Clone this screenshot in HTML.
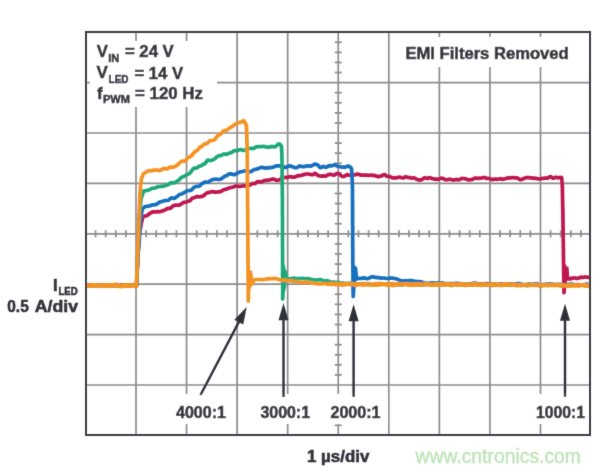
<!DOCTYPE html>
<html><head><meta charset="utf-8"><style>
html,body{margin:0;padding:0;background:#fff;width:600px;height:472px;overflow:hidden}
svg{display:block}
text{font-family:"Liberation Sans",sans-serif;font-weight:bold;fill:#33343b;stroke:#33343b;stroke-width:0.55px}
</style></head><body>
<svg width="600" height="472" viewBox="0 0 600 472">
<defs><filter id="bl" x="0" y="0" width="600" height="472" filterUnits="userSpaceOnUse"><feConvolveMatrix order="3" kernelMatrix="0.0113 0.0838 0.0113 0.0838 0.6193 0.0838 0.0113 0.0838 0.0113" edgeMode="duplicate"/></filter></defs>
<rect width="600" height="472" fill="#fff"/>
<g filter="url(#bl)">
<line x1="136.00" y1="32.0" x2="136.00" y2="435.0" stroke="#8d8d91" stroke-width="1.7"/>
<line x1="186.56" y1="32.0" x2="186.56" y2="435.0" stroke="#8d8d91" stroke-width="1.7"/>
<line x1="237.12" y1="32.0" x2="237.12" y2="435.0" stroke="#8d8d91" stroke-width="1.7"/>
<line x1="287.68" y1="32.0" x2="287.68" y2="435.0" stroke="#8d8d91" stroke-width="1.7"/>
<line x1="338.24" y1="32.0" x2="338.24" y2="435.0" stroke="#8d8d91" stroke-width="1.7"/>
<line x1="388.80" y1="32.0" x2="388.80" y2="435.0" stroke="#8d8d91" stroke-width="1.7"/>
<line x1="439.36" y1="32.0" x2="439.36" y2="435.0" stroke="#8d8d91" stroke-width="1.7"/>
<line x1="489.92" y1="32.0" x2="489.92" y2="435.0" stroke="#8d8d91" stroke-width="1.7"/>
<line x1="540.48" y1="32.0" x2="540.48" y2="435.0" stroke="#8d8d91" stroke-width="1.7"/>
<line x1="86.0" y1="82.60" x2="590.0" y2="82.60" stroke="#8d8d91" stroke-width="1.7"/>
<line x1="86.0" y1="133.00" x2="590.0" y2="133.00" stroke="#8d8d91" stroke-width="1.7"/>
<line x1="86.0" y1="183.40" x2="590.0" y2="183.40" stroke="#8d8d91" stroke-width="1.7"/>
<line x1="86.0" y1="233.80" x2="590.0" y2="233.80" stroke="#8d8d91" stroke-width="1.7"/>
<line x1="86.0" y1="284.20" x2="590.0" y2="284.20" stroke="#8d8d91" stroke-width="1.7"/>
<line x1="86.0" y1="334.60" x2="590.0" y2="334.60" stroke="#8d8d91" stroke-width="1.7"/>
<line x1="86.0" y1="385.00" x2="590.0" y2="385.00" stroke="#8d8d91" stroke-width="1.7"/>
<line x1="95.55" y1="230.30" x2="95.55" y2="237.30" stroke="#8d8d91" stroke-width="1.7"/>
<line x1="105.66" y1="230.30" x2="105.66" y2="237.30" stroke="#8d8d91" stroke-width="1.7"/>
<line x1="115.78" y1="230.30" x2="115.78" y2="237.30" stroke="#8d8d91" stroke-width="1.7"/>
<line x1="125.89" y1="230.30" x2="125.89" y2="237.30" stroke="#8d8d91" stroke-width="1.7"/>
<line x1="146.11" y1="230.30" x2="146.11" y2="237.30" stroke="#8d8d91" stroke-width="1.7"/>
<line x1="156.22" y1="230.30" x2="156.22" y2="237.30" stroke="#8d8d91" stroke-width="1.7"/>
<line x1="166.34" y1="230.30" x2="166.34" y2="237.30" stroke="#8d8d91" stroke-width="1.7"/>
<line x1="176.45" y1="230.30" x2="176.45" y2="237.30" stroke="#8d8d91" stroke-width="1.7"/>
<line x1="196.67" y1="230.30" x2="196.67" y2="237.30" stroke="#8d8d91" stroke-width="1.7"/>
<line x1="206.78" y1="230.30" x2="206.78" y2="237.30" stroke="#8d8d91" stroke-width="1.7"/>
<line x1="216.90" y1="230.30" x2="216.90" y2="237.30" stroke="#8d8d91" stroke-width="1.7"/>
<line x1="227.01" y1="230.30" x2="227.01" y2="237.30" stroke="#8d8d91" stroke-width="1.7"/>
<line x1="247.23" y1="230.30" x2="247.23" y2="237.30" stroke="#8d8d91" stroke-width="1.7"/>
<line x1="257.34" y1="230.30" x2="257.34" y2="237.30" stroke="#8d8d91" stroke-width="1.7"/>
<line x1="267.46" y1="230.30" x2="267.46" y2="237.30" stroke="#8d8d91" stroke-width="1.7"/>
<line x1="277.57" y1="230.30" x2="277.57" y2="237.30" stroke="#8d8d91" stroke-width="1.7"/>
<line x1="297.79" y1="230.30" x2="297.79" y2="237.30" stroke="#8d8d91" stroke-width="1.7"/>
<line x1="307.90" y1="230.30" x2="307.90" y2="237.30" stroke="#8d8d91" stroke-width="1.7"/>
<line x1="318.02" y1="230.30" x2="318.02" y2="237.30" stroke="#8d8d91" stroke-width="1.7"/>
<line x1="328.13" y1="230.30" x2="328.13" y2="237.30" stroke="#8d8d91" stroke-width="1.7"/>
<line x1="348.35" y1="230.30" x2="348.35" y2="237.30" stroke="#8d8d91" stroke-width="1.7"/>
<line x1="358.46" y1="230.30" x2="358.46" y2="237.30" stroke="#8d8d91" stroke-width="1.7"/>
<line x1="368.58" y1="230.30" x2="368.58" y2="237.30" stroke="#8d8d91" stroke-width="1.7"/>
<line x1="378.69" y1="230.30" x2="378.69" y2="237.30" stroke="#8d8d91" stroke-width="1.7"/>
<line x1="398.91" y1="230.30" x2="398.91" y2="237.30" stroke="#8d8d91" stroke-width="1.7"/>
<line x1="409.02" y1="230.30" x2="409.02" y2="237.30" stroke="#8d8d91" stroke-width="1.7"/>
<line x1="419.14" y1="230.30" x2="419.14" y2="237.30" stroke="#8d8d91" stroke-width="1.7"/>
<line x1="429.25" y1="230.30" x2="429.25" y2="237.30" stroke="#8d8d91" stroke-width="1.7"/>
<line x1="449.47" y1="230.30" x2="449.47" y2="237.30" stroke="#8d8d91" stroke-width="1.7"/>
<line x1="459.58" y1="230.30" x2="459.58" y2="237.30" stroke="#8d8d91" stroke-width="1.7"/>
<line x1="469.70" y1="230.30" x2="469.70" y2="237.30" stroke="#8d8d91" stroke-width="1.7"/>
<line x1="479.81" y1="230.30" x2="479.81" y2="237.30" stroke="#8d8d91" stroke-width="1.7"/>
<line x1="500.03" y1="230.30" x2="500.03" y2="237.30" stroke="#8d8d91" stroke-width="1.7"/>
<line x1="510.14" y1="230.30" x2="510.14" y2="237.30" stroke="#8d8d91" stroke-width="1.7"/>
<line x1="520.26" y1="230.30" x2="520.26" y2="237.30" stroke="#8d8d91" stroke-width="1.7"/>
<line x1="530.37" y1="230.30" x2="530.37" y2="237.30" stroke="#8d8d91" stroke-width="1.7"/>
<line x1="550.59" y1="230.30" x2="550.59" y2="237.30" stroke="#8d8d91" stroke-width="1.7"/>
<line x1="560.70" y1="230.30" x2="560.70" y2="237.30" stroke="#8d8d91" stroke-width="1.7"/>
<line x1="570.82" y1="230.30" x2="570.82" y2="237.30" stroke="#8d8d91" stroke-width="1.7"/>
<line x1="580.93" y1="230.30" x2="580.93" y2="237.30" stroke="#8d8d91" stroke-width="1.7"/>
<line x1="334.74" y1="42.28" x2="341.74" y2="42.28" stroke="#8d8d91" stroke-width="1.7"/>
<line x1="334.74" y1="52.36" x2="341.74" y2="52.36" stroke="#8d8d91" stroke-width="1.7"/>
<line x1="334.74" y1="62.44" x2="341.74" y2="62.44" stroke="#8d8d91" stroke-width="1.7"/>
<line x1="334.74" y1="72.52" x2="341.74" y2="72.52" stroke="#8d8d91" stroke-width="1.7"/>
<line x1="334.74" y1="92.68" x2="341.74" y2="92.68" stroke="#8d8d91" stroke-width="1.7"/>
<line x1="334.74" y1="102.76" x2="341.74" y2="102.76" stroke="#8d8d91" stroke-width="1.7"/>
<line x1="334.74" y1="112.84" x2="341.74" y2="112.84" stroke="#8d8d91" stroke-width="1.7"/>
<line x1="334.74" y1="122.92" x2="341.74" y2="122.92" stroke="#8d8d91" stroke-width="1.7"/>
<line x1="334.74" y1="143.08" x2="341.74" y2="143.08" stroke="#8d8d91" stroke-width="1.7"/>
<line x1="334.74" y1="153.16" x2="341.74" y2="153.16" stroke="#8d8d91" stroke-width="1.7"/>
<line x1="334.74" y1="163.24" x2="341.74" y2="163.24" stroke="#8d8d91" stroke-width="1.7"/>
<line x1="334.74" y1="173.32" x2="341.74" y2="173.32" stroke="#8d8d91" stroke-width="1.7"/>
<line x1="334.74" y1="193.48" x2="341.74" y2="193.48" stroke="#8d8d91" stroke-width="1.7"/>
<line x1="334.74" y1="203.56" x2="341.74" y2="203.56" stroke="#8d8d91" stroke-width="1.7"/>
<line x1="334.74" y1="213.64" x2="341.74" y2="213.64" stroke="#8d8d91" stroke-width="1.7"/>
<line x1="334.74" y1="223.72" x2="341.74" y2="223.72" stroke="#8d8d91" stroke-width="1.7"/>
<line x1="334.74" y1="243.88" x2="341.74" y2="243.88" stroke="#8d8d91" stroke-width="1.7"/>
<line x1="334.74" y1="253.96" x2="341.74" y2="253.96" stroke="#8d8d91" stroke-width="1.7"/>
<line x1="334.74" y1="264.04" x2="341.74" y2="264.04" stroke="#8d8d91" stroke-width="1.7"/>
<line x1="334.74" y1="274.12" x2="341.74" y2="274.12" stroke="#8d8d91" stroke-width="1.7"/>
<line x1="334.74" y1="294.28" x2="341.74" y2="294.28" stroke="#8d8d91" stroke-width="1.7"/>
<line x1="334.74" y1="304.36" x2="341.74" y2="304.36" stroke="#8d8d91" stroke-width="1.7"/>
<line x1="334.74" y1="314.44" x2="341.74" y2="314.44" stroke="#8d8d91" stroke-width="1.7"/>
<line x1="334.74" y1="324.52" x2="341.74" y2="324.52" stroke="#8d8d91" stroke-width="1.7"/>
<line x1="334.74" y1="344.68" x2="341.74" y2="344.68" stroke="#8d8d91" stroke-width="1.7"/>
<line x1="334.74" y1="354.76" x2="341.74" y2="354.76" stroke="#8d8d91" stroke-width="1.7"/>
<line x1="334.74" y1="364.84" x2="341.74" y2="364.84" stroke="#8d8d91" stroke-width="1.7"/>
<line x1="334.74" y1="374.92" x2="341.74" y2="374.92" stroke="#8d8d91" stroke-width="1.7"/>
<line x1="334.74" y1="395.08" x2="341.74" y2="395.08" stroke="#8d8d91" stroke-width="1.7"/>
<line x1="334.74" y1="405.16" x2="341.74" y2="405.16" stroke="#8d8d91" stroke-width="1.7"/>
<line x1="334.74" y1="415.24" x2="341.74" y2="415.24" stroke="#8d8d91" stroke-width="1.7"/>
<line x1="334.74" y1="425.32" x2="341.74" y2="425.32" stroke="#8d8d91" stroke-width="1.7"/>
<rect x="90" y="41" width="127" height="66" fill="#fff"/>
<rect x="395" y="37" width="193" height="30" fill="#fff"/>
<rect x="252" y="394" width="136" height="30" fill="#fff"/>
<rect x="530" y="394" width="58" height="30" fill="#fff"/>
<rect x="170" y="394" width="62" height="30" fill="#fff"/>
<clipPath id="cp"><rect x="86" y="32" width="504" height="403"/></clipPath><g clip-path="url(#cp)">
<path d="M86.0 285.5 L87.0 285.5 L88.0 285.6 L89.0 285.7 L90.0 285.7 L91.0 285.6 L92.1 285.5 L93.1 285.3 L94.1 285.3 L95.1 285.4 L96.1 285.4 L97.1 285.3 L98.1 285.3 L99.1 285.3 L100.1 285.3 L101.2 285.4 L102.2 285.4 L103.2 285.4 L104.2 285.3 L105.2 285.4 L106.2 285.5 L107.2 285.4 L108.2 285.3 L109.2 285.4 L110.2 285.6 L111.2 285.7 L112.3 285.6 L113.3 285.4 L114.3 285.3 L115.3 285.3 L116.3 285.5 L117.3 285.6 L118.3 285.7 L119.3 285.6 L120.3 285.6 L121.3 285.5 L122.4 285.4 L123.4 285.3 L124.4 285.4 L125.4 285.5 L126.4 285.6 L127.4 285.6 L128.4 285.6 L129.4 285.5 L130.4 285.5 L131.4 285.4 L132.5 285.4 L133.5 285.4 L134.5 285.5 L135.5 285.5 L136.5 285.8 L136.6 284.4 L136.6 282.9 L136.7 281.9 L136.7 281.2 L136.8 280.5 L136.8 279.3 L136.8 278.1 L136.9 277.2 L136.9 276.5 L137.0 275.4 L137.1 273.9 L137.1 272.7 L137.2 271.8 L137.2 271.2 L137.2 270.6 L137.3 269.8 L137.3 268.9 L137.4 267.7 L137.4 266.5 L137.5 265.3 L137.6 264.1 L137.6 262.8 L137.7 261.8 L137.7 260.9 L137.8 260.1 L137.8 259.1 L137.8 258.2 L137.9 257.2 L137.9 255.9 L138.0 254.8 L138.1 254.1 L138.2 253.5 L138.2 252.3 L138.3 250.7 L138.4 249.4 L138.5 248.6 L138.6 247.9 L138.6 247.1 L138.7 246.2 L138.8 245.1 L138.9 243.8 L139.0 242.7 L139.0 242.0 L139.1 241.5 L139.2 240.9 L139.3 239.8 L139.4 238.5 L139.4 237.1 L139.5 235.7 L139.6 234.5 L139.7 233.6 L139.8 232.9 L139.8 232.0 L139.9 231.0 L140.0 229.7 L140.2 228.7 L140.4 227.9 L140.6 227.5 L140.8 226.7 L141.0 225.3 L141.2 223.9 L141.4 222.7 L141.6 222.1 L141.8 221.4 L142.0 220.9 L142.2 219.9 L142.4 218.7 L142.6 217.1 L143.6 216.4 L144.6 216.1 L145.6 216.0 L146.6 215.7 L147.7 215.1 L148.8 214.3 L149.8 213.4 L150.9 212.7 L152.0 212.2 L153.1 211.9 L154.2 211.9 L155.3 211.9 L156.4 211.8 L157.5 211.7 L158.6 211.7 L159.7 211.8 L160.8 211.5 L161.9 211.1 L163.0 210.7 L164.1 210.4 L165.2 209.9 L166.3 209.2 L167.2 208.5 L168.2 208.4 L169.1 208.4 L170.0 208.5 L170.9 207.9 L171.9 207.1 L172.8 206.1 L173.7 205.6 L174.7 205.3 L175.6 205.2 L176.6 205.1 L177.5 205.1 L178.5 205.2 L179.4 204.9 L180.5 204.5 L181.6 203.7 L182.7 202.9 L183.8 202.3 L184.9 202.3 L186.0 202.1 L186.9 201.6 L187.9 201.2 L188.8 201.1 L189.7 201.0 L190.6 200.1 L191.6 198.9 L192.5 198.1 L193.8 197.8 L195.0 197.4 L195.9 197.0 L196.9 196.5 L197.8 196.6 L198.8 196.8 L199.7 196.8 L200.7 196.6 L201.6 196.3 L202.7 196.2 L203.8 195.5 L204.8 194.6 L205.9 193.5 L207.0 192.9 L208.1 192.6 L209.2 192.5 L210.3 192.1 L211.4 191.7 L212.5 191.5 L213.6 191.9 L214.7 192.2 L215.8 192.2 L216.9 192.0 L218.0 191.8 L219.1 191.8 L220.2 191.7 L221.3 191.3 L222.4 190.5 L223.5 189.9 L224.6 189.4 L225.6 189.4 L226.7 189.0 L227.8 188.6 L228.9 188.1 L230.0 187.7 L231.1 187.5 L232.2 187.3 L233.3 186.9 L234.4 186.4 L235.5 186.1 L236.6 186.0 L237.7 186.1 L238.8 186.4 L239.9 186.5 L241.0 186.3 L242.1 186.0 L243.2 185.8 L244.2 185.8 L245.3 185.9 L246.4 185.9 L247.5 185.6 L248.8 185.4 L250.0 185.0 L250.9 184.4 L251.9 183.7 L252.8 183.5 L253.8 183.5 L254.7 183.6 L255.7 183.1 L256.6 182.3 L257.7 181.7 L258.8 181.5 L259.9 181.9 L260.9 182.0 L262.0 181.8 L263.1 181.1 L264.2 180.7 L265.3 180.4 L266.4 180.2 L267.5 180.3 L268.6 180.2 L269.7 180.0 L270.8 179.5 L271.9 179.2 L273.0 179.1 L274.1 179.3 L275.2 179.8 L276.3 180.3 L277.4 180.3 L278.5 180.1 L279.6 179.8 L280.6 179.0 L281.7 178.0 L282.8 177.3 L283.9 177.3 L285.0 177.4 L286.1 177.6 L287.2 177.4 L288.3 177.1 L289.4 176.7 L290.5 176.7 L291.6 176.9 L292.7 177.2 L293.8 177.2 L294.9 177.0 L296.0 176.5 L297.1 176.1 L298.2 175.7 L299.2 175.7 L300.3 175.6 L301.4 175.4 L302.5 174.9 L303.8 174.6 L305.0 174.3 L306.0 174.0 L307.0 174.0 L308.0 174.0 L309.0 174.2 L310.0 174.3 L311.0 174.5 L312.0 174.8 L313.0 174.6 L314.0 173.9 L315.0 173.3 L316.0 173.9 L317.0 174.8 L318.0 175.5 L319.0 175.7 L320.0 176.1 L321.0 176.1 L322.0 176.1 L323.0 175.9 L324.0 175.9 L325.0 176.1 L326.0 176.1 L327.0 175.4 L328.0 174.8 L329.0 174.4 L330.0 174.4 L331.0 174.4 L332.0 174.8 L333.0 175.1 L334.0 175.1 L335.0 174.6 L336.0 174.1 L337.0 173.6 L338.0 173.4 L339.0 173.7 L340.0 174.6 L341.0 175.6 L342.0 176.4 L343.0 176.5 L344.0 176.4 L345.0 175.9 L346.0 175.2 L347.0 174.7 L348.0 174.8 L349.0 175.2 L350.0 175.4 L351.0 175.0 L352.0 174.6 L353.0 174.6 L354.0 174.9 L355.0 174.8 L356.0 174.6 L357.0 174.1 L358.0 174.1 L359.0 174.5 L360.0 174.9 L361.0 175.1 L362.0 175.0 L363.0 175.2 L364.0 175.2 L365.0 175.2 L366.0 175.0 L367.0 175.1 L368.0 175.4 L369.0 175.4 L370.0 175.2 L371.0 175.2 L372.0 175.3 L373.0 175.4 L374.0 175.4 L375.0 175.5 L376.0 176.0 L377.0 176.4 L378.0 176.6 L379.0 176.4 L380.0 176.3 L381.0 176.1 L382.0 175.8 L383.0 175.0 L384.0 174.6 L385.0 174.7 L386.0 175.7 L387.0 176.3 L388.0 176.3 L389.0 176.3 L390.0 176.5 L391.0 177.1 L392.0 177.6 L393.0 178.0 L394.0 177.9 L395.0 177.9 L396.0 177.8 L397.0 177.7 L398.0 177.4 L399.0 177.2 L400.0 177.2 L401.0 177.5 L402.0 177.8 L403.0 178.0 L404.0 177.7 L405.0 176.9 L406.0 176.7 L407.0 177.1 L408.0 177.5 L409.0 177.6 L410.0 177.7 L411.0 178.0 L412.0 178.1 L413.0 177.9 L414.0 177.9 L415.0 178.3 L416.0 178.8 L417.0 179.3 L418.0 179.8 L419.0 179.9 L420.0 180.1 L421.0 179.9 L422.0 179.6 L423.0 178.8 L424.0 178.0 L425.0 177.7 L426.0 178.1 L427.0 178.4 L428.0 178.3 L429.0 177.7 L430.0 177.8 L431.0 178.1 L432.0 178.6 L433.0 178.8 L434.0 179.1 L435.0 179.2 L436.0 179.3 L437.0 179.2 L438.0 179.3 L439.0 179.1 L440.0 178.7 L441.0 178.2 L442.0 178.2 L443.0 178.5 L444.0 179.0 L445.0 179.5 L446.0 179.8 L447.0 179.8 L448.0 179.5 L449.0 179.3 L450.0 179.2 L451.0 179.4 L452.0 179.8 L453.0 180.1 L454.0 180.1 L455.0 179.7 L456.0 179.4 L457.0 179.5 L458.0 179.8 L459.0 179.8 L460.0 179.3 L461.0 178.8 L462.0 178.4 L463.0 178.5 L464.0 178.5 L465.0 178.7 L466.0 178.9 L467.0 179.5 L468.0 179.8 L469.0 179.9 L470.0 179.7 L471.0 179.7 L472.0 179.7 L473.0 179.2 L474.0 178.5 L475.0 178.1 L476.0 178.1 L477.0 178.2 L478.0 178.4 L479.1 178.2 L480.1 178.2 L481.2 178.0 L482.2 178.0 L483.3 177.6 L484.3 177.6 L485.4 177.8 L486.4 178.3 L487.5 178.4 L488.5 178.5 L489.5 178.5 L490.6 179.0 L491.6 179.4 L492.6 179.6 L493.6 179.3 L494.7 179.2 L495.7 179.1 L496.7 179.3 L497.7 179.2 L498.8 179.0 L499.8 178.7 L500.8 178.9 L501.9 179.2 L502.9 179.3 L503.9 179.0 L505.0 178.8 L506.0 178.6 L507.0 178.2 L508.0 177.7 L509.0 177.9 L510.0 178.0 L511.0 177.9 L512.0 177.5 L513.0 177.5 L514.0 177.7 L515.0 177.8 L516.0 177.8 L517.0 177.9 L518.0 178.4 L519.0 179.0 L520.0 179.6 L521.0 179.7 L522.0 179.4 L523.0 178.8 L524.0 178.3 L525.0 178.0 L526.1 177.8 L527.1 177.6 L528.2 177.6 L529.2 177.7 L530.3 177.8 L531.3 177.9 L532.4 178.1 L533.4 178.2 L534.4 178.3 L535.4 178.2 L536.5 178.4 L537.5 178.7 L538.5 178.9 L539.5 179.0 L540.6 178.7 L541.6 178.6 L542.6 178.4 L543.6 178.3 L544.6 178.1 L545.6 178.0 L546.6 178.1 L547.7 178.1 L548.7 177.4 L549.7 176.7 L550.7 176.5 L551.7 177.5 L552.8 178.2 L553.8 178.2 L554.9 177.5 L555.9 177.3 L557.0 177.6 L558.0 177.9 L559.0 177.6 L560.3 177.5 L561.6 177.7 L561.6 177.3 L561.7 178.4 L561.8 179.5 L561.9 180.6 L562.0 181.7 L562.1 182.8 L562.2 183.9 L562.3 185.0 L562.3 186.0 L562.3 187.0 L562.4 188.0 L562.4 189.0 L562.4 190.0 L562.4 191.0 L562.4 192.0 L562.5 193.0 L562.5 194.0 L562.5 195.0 L562.5 196.0 L562.5 197.0 L562.6 198.0 L562.6 199.0 L562.6 200.0 L562.6 201.0 L562.6 202.0 L562.7 203.0 L562.7 204.0 L562.7 205.0 L562.7 206.0 L562.7 207.0 L562.8 208.0 L562.8 209.0 L562.8 210.0 L562.8 211.0 L562.8 212.0 L562.9 213.0 L562.9 214.0 L562.9 215.0 L562.9 216.0 L562.9 217.0 L562.9 218.0 L563.0 219.0 L563.0 220.0 L563.0 221.0 L563.0 222.0 L563.0 223.0 L563.0 224.0 L563.0 225.0 L563.0 226.0 L563.1 227.0 L563.1 228.0 L563.1 229.0 L563.1 230.0 L563.1 231.0 L563.1 232.0 L563.1 233.0 L563.2 234.0 L563.2 235.0 L563.2 236.0 L563.2 237.0 L563.2 238.0 L563.2 239.0 L563.2 240.0 L563.2 241.0 L563.3 242.0 L563.3 243.0 L563.3 244.0 L563.3 245.0 L563.3 246.0 L563.3 247.0 L563.3 248.0 L563.4 249.0 L563.4 250.0 L563.4 251.0 L563.4 252.0 L563.4 253.0 L563.4 254.0 L563.4 255.0 L563.4 256.0 L563.5 257.0 L563.5 258.0 L563.5 259.0 L563.5 260.0 L563.5 261.0 L563.5 262.0 L563.5 263.1 L563.6 264.1 L563.6 265.1 L563.6 266.1 L563.6 267.2 L563.6 268.2 L563.6 269.2 L563.7 270.2 L563.7 271.2 L563.7 272.3 L563.7 273.3 L563.7 274.3 L563.7 275.3 L563.8 276.4 L563.8 277.4 L563.8 278.4 L563.8 279.4 L563.8 280.4 L563.8 281.5 L563.8 282.5 L563.9 283.5 L563.9 284.5 L563.9 285.5 L563.9 286.6 L563.9 287.6 L563.9 288.6 L564.0 289.6 L564.0 290.7 L564.0 291.7 L564.0 292.7 L564.1 291.6 L564.2 290.6 L564.3 289.5 L564.4 288.4 L564.5 287.4 L564.6 286.3 L564.7 285.2 L564.8 284.1 L564.9 283.1 L565.0 282.0 L565.1 281.0 L565.3 280.0 L565.4 279.0 L565.5 278.0 L565.6 277.0 L565.8 276.0 L565.9 275.0 L566.0 274.0 L566.2 273.0 L566.3 272.0 L566.4 271.0 L566.5 270.0 L566.7 269.0 L566.8 268.0 L566.9 269.0 L566.9 270.0 L567.0 271.0 L567.1 272.0 L567.1 273.0 L567.2 274.0 L567.2 275.0 L567.3 276.0 L567.4 277.0 L567.4 278.0 L567.5 279.0 L568.8 278.8 L570.0 278.5 L570.0 279.0 L571.1 278.8 L572.2 278.3 L573.3 278.0 L574.5 277.9 L575.6 278.2 L576.7 278.4 L577.8 278.3 L578.9 278.0 L579.9 277.5 L580.9 277.3 L581.8 277.2 L582.8 277.4 L583.8 277.2 L584.8 276.9 L585.8 277.0 L586.9 277.2 L588.0 277.3 L589.0 277.4" fill="none" stroke="#c0134f" stroke-width="3.7" stroke-linejoin="round" stroke-linecap="round"/><polygon points="563.6,262 566,265 567.3,271 567.6,279 566.5,281 563.6,282" fill="#c0134f"/>
<path d="M86.0 285.7 L87.0 285.5 L88.0 285.4 L89.0 285.2 L90.0 285.2 L91.0 285.3 L92.1 285.5 L93.1 285.5 L94.1 285.4 L95.1 285.3 L96.1 285.2 L97.1 285.2 L98.1 285.3 L99.1 285.4 L100.1 285.5 L101.2 285.4 L102.2 285.4 L103.2 285.4 L104.2 285.4 L105.2 285.5 L106.2 285.5 L107.2 285.4 L108.2 285.3 L109.2 285.2 L110.2 285.2 L111.2 285.3 L112.3 285.3 L113.3 285.3 L114.3 285.4 L115.3 285.3 L116.3 285.3 L117.3 285.5 L118.3 285.7 L119.3 285.6 L120.3 285.4 L121.3 285.2 L122.4 285.2 L123.4 285.4 L124.4 285.5 L125.4 285.4 L126.4 285.2 L127.4 285.1 L128.4 285.3 L129.4 285.4 L130.4 285.3 L131.4 285.2 L132.5 285.3 L133.5 285.4 L134.5 285.6 L135.5 285.6 L136.5 285.9 L136.6 284.7 L136.6 283.5 L136.7 282.4 L136.7 281.0 L136.8 280.0 L136.8 279.5 L136.8 279.2 L136.9 278.4 L136.9 276.9 L137.0 275.2 L137.1 273.7 L137.1 272.7 L137.2 271.5 L137.2 270.2 L137.2 269.3 L137.3 268.9 L137.3 268.5 L137.4 267.7 L137.4 266.6 L137.5 265.1 L137.6 263.7 L137.6 262.5 L137.7 261.9 L137.7 261.2 L137.8 260.3 L137.8 259.2 L137.8 258.2 L137.9 257.3 L137.9 256.0 L138.0 254.3 L138.1 252.5 L138.1 251.3 L138.2 250.8 L138.3 250.6 L138.3 250.2 L138.4 249.4 L138.5 248.9 L138.5 248.3 L138.6 247.6 L138.7 246.4 L138.7 244.9 L138.8 243.0 L138.9 241.3 L138.9 240.1 L139.0 239.9 L139.1 239.7 L139.1 239.0 L139.2 237.5 L139.3 235.9 L139.3 234.3 L139.4 233.1 L139.5 232.2 L139.5 231.6 L139.6 231.0 L139.7 230.3 L139.7 229.3 L139.8 228.2 L139.9 226.9 L139.9 225.9 L140.0 225.0 L140.1 224.0 L140.3 222.9 L140.4 222.0 L140.5 221.4 L140.7 220.4 L140.8 218.9 L140.9 217.5 L141.1 216.5 L141.2 215.7 L141.3 214.8 L141.5 213.9 L141.6 213.2 L141.7 212.3 L141.9 211.3 L142.0 210.0 L142.8 208.7 L143.7 207.8 L144.5 207.0 L145.3 206.6 L146.3 206.5 L147.2 206.3 L148.2 206.1 L149.2 206.0 L150.2 205.7 L151.2 205.3 L152.1 205.0 L153.1 204.8 L154.2 204.8 L155.3 204.7 L156.4 204.4 L157.5 203.6 L158.6 202.8 L159.7 202.1 L160.8 201.8 L161.9 201.5 L163.0 201.3 L164.1 200.8 L165.2 200.5 L166.3 200.5 L167.2 200.5 L168.2 200.3 L169.1 199.6 L170.0 198.8 L170.9 198.1 L171.9 197.9 L172.8 198.2 L173.7 198.4 L174.7 198.2 L175.6 197.5 L176.6 196.9 L177.5 196.1 L178.5 195.4 L179.4 194.6 L180.3 194.3 L181.3 194.0 L182.2 193.7 L183.2 193.2 L184.1 192.7 L185.1 192.2 L186.0 191.7 L186.9 190.9 L187.9 190.5 L188.8 190.5 L189.7 190.6 L190.6 190.5 L191.6 189.9 L192.5 188.9 L193.8 187.7 L195.0 186.7 L195.9 186.5 L196.9 186.4 L197.8 186.5 L198.8 186.3 L199.7 185.9 L200.7 184.8 L201.6 183.9 L202.5 183.2 L203.5 182.9 L204.4 182.3 L205.3 182.1 L206.2 182.0 L207.2 182.2 L208.1 181.9 L209.2 181.5 L210.3 180.8 L211.4 180.1 L212.5 179.7 L213.6 179.4 L214.7 179.2 L215.8 179.0 L216.9 179.2 L218.0 179.5 L219.1 179.5 L220.2 179.2 L221.3 178.7 L222.2 178.2 L223.2 177.4 L224.1 176.7 L225.0 176.1 L225.9 175.9 L226.9 175.5 L227.8 174.9 L228.9 174.1 L230.0 173.8 L231.1 173.9 L232.2 174.2 L233.3 174.6 L234.4 174.7 L235.5 174.3 L236.6 173.6 L237.7 172.8 L238.8 172.4 L239.9 171.9 L241.0 171.8 L242.1 171.5 L243.2 171.3 L244.2 171.0 L245.3 170.9 L246.4 171.0 L247.5 171.4 L248.8 171.8 L250.0 171.8 L250.9 171.5 L251.9 171.0 L252.8 170.4 L253.8 169.9 L254.7 169.5 L255.7 169.2 L256.6 168.9 L257.7 168.8 L258.8 168.5 L259.9 167.8 L260.9 167.4 L262.0 167.4 L263.1 167.6 L264.2 167.9 L265.3 168.1 L266.4 167.9 L267.5 167.8 L268.6 167.7 L269.7 167.8 L270.8 167.6 L271.9 167.4 L273.0 167.2 L274.1 166.8 L275.2 166.3 L276.3 165.9 L277.4 165.9 L278.5 165.9 L279.6 165.9 L280.6 165.9 L281.7 166.1 L282.8 166.4 L283.9 167.1 L285.0 167.5 L286.1 167.4 L287.2 166.7 L288.3 166.1 L289.4 165.8 L290.5 166.1 L291.6 166.4 L292.7 166.9 L293.8 167.2 L294.9 167.6 L296.0 167.8 L297.1 167.4 L298.2 166.8 L299.2 166.1 L300.3 166.1 L301.4 166.5 L302.5 166.7 L303.8 166.6 L305.0 166.3 L306.0 166.2 L307.0 165.9 L308.0 165.8 L309.0 165.9 L310.0 166.1 L311.0 166.2 L312.0 165.7 L313.0 165.1 L314.0 164.4 L315.0 164.1 L316.0 164.3 L317.0 164.7 L318.0 165.2 L319.0 166.4 L320.0 167.6 L321.0 167.7 L322.0 167.0 L323.0 166.4 L324.0 166.6 L325.0 167.2 L326.0 167.4 L327.0 166.9 L328.0 166.2 L329.0 165.8 L330.0 165.7 L331.0 165.8 L332.0 165.7 L333.0 165.4 L334.0 165.0 L335.0 164.8 L336.0 165.2 L337.0 166.0 L338.0 166.4 L339.0 166.5 L340.0 166.6 L341.0 167.0 L342.0 167.1 L343.0 167.0 L344.0 167.1 L345.0 167.3 L346.0 166.8 L347.0 166.4 L348.0 166.0 L349.2 166.5 L350.5 167.1 L351.1 168.0 L351.6 169.0 L351.6 169.0 L351.7 170.0 L351.7 171.0 L351.8 172.0 L351.9 173.0 L351.9 174.0 L352.0 175.0 L352.0 176.0 L352.1 177.0 L352.1 178.0 L352.1 179.0 L352.2 180.0 L352.2 181.0 L352.2 182.0 L352.3 183.0 L352.3 184.0 L352.3 185.0 L352.4 186.0 L352.4 187.0 L352.4 188.0 L352.5 189.0 L352.5 190.0 L352.5 191.0 L352.5 192.0 L352.5 193.0 L352.5 194.0 L352.5 195.0 L352.5 196.0 L352.5 197.0 L352.5 198.0 L352.5 199.0 L352.5 200.0 L352.5 201.0 L352.6 202.0 L352.6 203.0 L352.6 204.0 L352.6 205.0 L352.6 206.0 L352.6 207.0 L352.6 208.0 L352.6 209.0 L352.6 210.0 L352.6 211.0 L352.6 212.0 L352.6 213.0 L352.6 214.0 L352.6 215.0 L352.6 216.0 L352.6 217.0 L352.6 218.0 L352.6 219.0 L352.6 220.0 L352.6 221.0 L352.6 222.0 L352.6 223.0 L352.6 224.0 L352.6 225.0 L352.7 226.0 L352.7 227.0 L352.7 228.0 L352.7 229.0 L352.7 230.0 L352.7 231.0 L352.7 232.0 L352.7 233.0 L352.7 234.0 L352.7 235.0 L352.7 236.0 L352.7 237.0 L352.7 238.0 L352.7 239.0 L352.7 240.0 L352.7 241.0 L352.7 242.0 L352.7 243.0 L352.7 244.0 L352.7 245.0 L352.7 246.0 L352.7 247.0 L352.7 248.0 L352.8 249.0 L352.8 250.0 L352.8 251.0 L352.8 252.0 L352.8 253.0 L352.8 254.0 L352.8 255.0 L352.8 256.0 L352.8 257.0 L352.8 258.0 L352.8 259.0 L352.8 260.0 L352.8 261.0 L352.8 262.0 L352.8 263.0 L352.8 264.0 L352.9 265.1 L352.9 266.1 L352.9 267.1 L352.9 268.1 L352.9 269.1 L352.9 270.1 L352.9 271.1 L352.9 272.1 L352.9 273.1 L353.0 274.2 L353.0 275.2 L353.0 276.2 L353.0 277.2 L353.0 278.2 L353.0 279.2 L353.0 280.2 L353.0 281.2 L353.0 282.2 L353.1 283.3 L353.1 284.3 L353.1 285.3 L353.1 286.3 L353.1 287.3 L353.1 288.3 L353.1 289.3 L353.1 290.3 L353.1 291.3 L353.2 292.4 L353.2 293.4 L353.2 294.4 L353.2 295.4 L353.2 296.4 L353.3 295.4 L353.3 294.3 L353.4 293.3 L353.5 292.3 L353.6 291.2 L353.6 290.2 L353.7 289.1 L353.8 288.1 L353.9 287.1 L353.9 286.0 L354.0 285.0 L354.1 284.0 L354.2 283.0 L354.3 282.0 L354.4 281.0 L354.4 280.0 L354.5 279.0 L354.6 278.0 L354.7 277.0 L354.8 276.0 L354.9 275.0 L355.0 274.0 L355.1 273.0 L355.1 272.0 L355.2 271.0 L355.3 270.0 L355.4 269.0 L355.5 268.0 L355.6 269.0 L355.7 270.0 L355.8 271.0 L355.9 272.0 L356.0 273.0 L356.0 274.0 L356.1 275.0 L356.2 276.0 L356.3 277.0 L356.4 278.0 L356.5 279.0 L357.5 278.7 L357.5 278.2 L358.6 278.3 L359.6 278.3 L360.7 278.4 L361.8 278.3 L362.9 278.1 L363.9 277.9 L365.0 278.1 L366.0 278.4 L367.0 278.7 L368.0 278.5 L369.0 278.2 L370.0 277.6 L371.0 277.1 L372.0 276.9 L373.0 276.9 L374.0 277.1 L375.0 277.3 L376.0 277.4 L377.0 277.6 L378.0 277.6 L379.0 277.7 L380.0 277.9 L381.0 278.2 L382.0 278.1 L383.0 278.0 L384.0 278.0 L385.0 278.3 L386.0 278.5 L387.0 278.5 L388.0 278.4 L389.0 278.2 L390.0 278.1 L391.0 278.0 L392.0 278.1 L393.0 278.1 L394.0 278.5 L395.0 278.6 L396.0 278.8 L397.0 279.1 L398.0 279.6 L399.0 280.1 L400.0 280.4 L401.0 280.7 L402.0 280.9 L403.0 281.0 L404.0 280.9 L405.0 280.8 L406.0 280.9 L407.0 280.9 L408.0 280.8 L409.0 280.7 L410.0 280.7 L411.0 280.6 L412.1 280.7 L413.1 280.9 L414.2 281.2 L415.2 281.4 L416.3 281.5 L417.3 281.6 L418.4 281.6 L419.4 281.6 L420.4 281.7 L421.5 281.9 L422.5 282.2 L423.6 282.5 L424.6 282.9 L425.7 283.2 L426.7 283.3 L427.7 283.2 L428.7 283.2 L429.8 283.0 L430.8 283.0 L431.8 282.9 L432.8 282.9 L433.9 282.9 L434.9 283.1 L435.9 283.2 L436.9 283.0 L438.0 282.7 L439.0 282.7 L440.0 282.9 L441.0 283.0 L442.0 282.9 L443.0 283.1 L444.0 283.2 L445.0 283.5 L446.0 283.6 L447.0 283.7 L448.0 283.7 L449.0 283.7 L450.0 283.6 L451.0 283.6 L452.0 283.5 L453.0 283.6 L454.0 283.5 L455.0 283.4 L456.0 283.2 L457.0 283.3 L458.0 283.4 L459.0 283.5 L460.0 283.6 L461.0 283.8 L462.0 284.0 L463.0 284.2 L464.0 284.2 L465.0 284.2 L466.0 284.3 L467.0 284.4 L468.0 284.2 L469.0 284.0 L470.0 283.8 L471.0 283.8 L472.0 283.6 L473.0 283.4 L474.0 283.2 L475.0 283.2 L476.0 283.2 L477.0 283.5 L478.0 283.7 L479.0 283.9 L480.0 283.9 L481.0 283.8 L482.0 283.8 L483.0 283.9 L484.0 283.8 L485.0 283.7 L486.0 283.6 L487.0 283.7 L488.0 283.8 L489.0 283.9 L490.0 283.8 L491.0 283.9 L492.0 284.1 L493.0 284.3 L494.0 284.3 L495.0 284.1 L496.0 284.2 L497.0 284.3 L498.0 284.4 L499.0 284.2 L500.0 284.0 L501.0 283.8 L502.0 283.9 L503.0 284.2 L504.0 284.3 L505.0 284.3 L506.0 284.2 L507.0 284.3 L508.0 284.1 L509.0 283.9 L510.0 283.8 L511.0 283.9 L512.0 284.2 L513.0 284.3 L514.0 284.2 L515.0 284.0 L516.0 283.8 L517.0 283.6 L518.0 283.6 L519.0 283.6 L520.0 283.9 L521.0 284.1 L522.0 284.3 L523.0 284.5 L524.0 284.7 L525.0 284.8 L526.0 284.7 L527.0 284.4 L528.0 284.2 L529.0 284.1 L530.0 284.2 L531.0 284.3 L532.0 284.3 L533.0 284.2 L534.0 284.0 L535.0 283.9 L536.0 283.8 L537.0 283.8 L538.0 284.0 L539.0 284.3 L540.0 284.5 L541.0 284.7 L542.0 284.8 L543.0 284.6 L544.0 284.4 L545.0 284.2 L546.0 284.2 L547.0 284.3 L548.0 284.2 L549.0 283.9 L550.0 283.8 L551.0 284.1 L552.0 284.3 L553.0 284.4 L554.0 284.5 L555.0 284.5 L556.0 284.5 L557.0 284.6 L558.0 284.5 L559.0 284.4 L560.0 284.4 L561.0 284.4 L562.0 284.5 L563.0 284.7 L564.0 284.7 L565.0 284.7 L566.0 284.5 L567.0 284.3 L568.0 284.3 L569.0 284.3 L570.0 284.1 L571.0 284.0 L572.0 284.0 L573.0 284.2 L574.0 284.6 L575.0 284.9 L576.0 284.8 L577.0 284.6 L578.0 284.5 L579.0 284.7 L580.0 284.8 L581.0 285.0 L582.0 285.1 L583.0 285.0 L584.0 284.7 L585.0 284.4 L586.0 284.1 L587.0 284.1 L588.0 284.3 L589.0 284.6" fill="none" stroke="#1570be" stroke-width="3.7" stroke-linejoin="round" stroke-linecap="round"/><polygon points="353,263 355,265.5 356.2,272 356.4,279.5 355,281 353,282" fill="#1570be"/>
<path d="M86.0 285.3 L87.0 285.4 L88.0 285.5 L89.0 285.5 L90.0 285.5 L91.0 285.5 L92.1 285.5 L93.1 285.5 L94.1 285.5 L95.1 285.5 L96.1 285.5 L97.1 285.6 L98.1 285.7 L99.1 285.7 L100.1 285.7 L101.2 285.6 L102.2 285.5 L103.2 285.4 L104.2 285.3 L105.2 285.3 L106.2 285.3 L107.2 285.2 L108.2 285.2 L109.2 285.3 L110.2 285.4 L111.2 285.4 L112.3 285.3 L113.3 285.3 L114.3 285.3 L115.3 285.3 L116.3 285.3 L117.3 285.4 L118.3 285.5 L119.3 285.7 L120.3 285.8 L121.3 285.7 L122.4 285.5 L123.4 285.3 L124.4 285.3 L125.4 285.4 L126.4 285.5 L127.4 285.5 L128.4 285.5 L129.4 285.5 L130.4 285.6 L131.4 285.6 L132.5 285.6 L133.5 285.5 L134.5 285.5 L135.5 285.5 L136.5 285.8 L136.5 285.1 L136.6 284.3 L136.6 283.4 L136.7 281.8 L136.7 279.9 L136.8 278.2 L136.8 277.1 L136.8 276.3 L136.9 275.7 L136.9 274.9 L137.0 274.1 L137.0 273.1 L137.1 272.6 L137.1 271.7 L137.1 270.5 L137.2 269.0 L137.2 268.1 L137.3 267.4 L137.3 267.0 L137.4 266.2 L137.4 265.1 L137.4 263.4 L137.5 261.9 L137.5 260.7 L137.6 259.9 L137.6 259.1 L137.7 258.5 L137.7 257.6 L137.7 256.4 L137.8 255.1 L137.8 254.0 L137.9 253.0 L137.9 252.0 L138.0 251.2 L138.0 250.3 L138.0 249.4 L138.1 248.2 L138.1 247.3 L138.2 246.2 L138.2 245.1 L138.3 243.9 L138.3 242.8 L138.3 241.4 L138.4 239.9 L138.4 238.6 L138.5 237.6 L138.5 236.9 L138.6 236.5 L138.6 236.1 L138.6 235.8 L138.7 235.0 L138.7 234.0 L138.8 232.8 L138.8 231.7 L138.9 230.5 L138.9 229.5 L138.9 228.5 L139.0 227.3 L139.0 225.9 L139.1 224.7 L139.1 223.6 L139.2 222.7 L139.2 221.9 L139.2 221.3 L139.3 220.6 L139.3 219.5 L139.4 218.1 L139.4 216.9 L139.5 215.9 L139.5 215.3 L139.6 214.1 L139.7 212.7 L139.8 211.4 L139.9 210.6 L140.0 209.8 L140.1 209.0 L140.2 208.0 L140.3 207.1 L140.4 205.9 L140.5 204.7 L140.6 203.4 L140.7 202.4 L140.8 201.5 L140.9 200.5 L141.0 199.4 L141.3 198.4 L141.5 197.3 L141.8 196.6 L142.0 195.9 L142.3 195.5 L142.5 194.6 L142.8 193.3 L143.0 191.9 L143.3 191.1 L144.4 191.1 L145.5 190.9 L146.6 190.4 L147.7 190.3 L148.8 190.0 L149.8 189.6 L150.9 188.9 L152.0 188.4 L153.1 188.2 L154.2 188.1 L155.3 187.9 L156.4 187.3 L157.5 186.9 L158.6 186.6 L159.7 186.5 L160.8 186.4 L161.9 186.4 L163.0 186.3 L164.1 186.0 L165.2 185.5 L166.3 185.2 L167.3 185.0 L168.4 184.5 L169.4 183.7 L170.5 182.9 L171.5 182.7 L172.6 182.8 L173.6 183.0 L174.7 182.7 L175.7 182.0 L176.8 181.3 L177.7 180.8 L178.5 180.3 L179.4 179.6 L180.3 178.4 L181.1 177.5 L182.0 177.0 L183.1 176.9 L184.1 176.4 L185.2 175.6 L186.2 175.0 L187.3 174.7 L188.2 174.2 L189.0 173.7 L189.9 173.0 L190.8 172.1 L191.6 170.8 L192.5 169.7 L193.3 168.7 L194.2 168.3 L195.0 168.0 L195.9 168.2 L196.9 167.9 L197.8 167.2 L198.8 166.4 L199.7 166.1 L200.7 166.0 L201.6 165.5 L202.5 164.8 L203.5 164.2 L204.4 164.0 L205.3 163.2 L206.2 161.9 L207.2 160.6 L208.1 160.1 L209.0 160.3 L210.0 160.6 L210.9 160.5 L211.9 160.2 L212.8 159.8 L213.8 159.4 L214.7 158.9 L215.6 158.1 L216.6 157.2 L217.5 156.4 L218.5 155.9 L219.4 155.7 L220.4 155.7 L221.3 155.4 L222.4 154.7 L223.5 154.0 L224.6 154.0 L225.6 154.3 L226.7 154.2 L227.8 153.8 L228.7 153.4 L229.7 153.0 L230.6 152.7 L231.6 152.4 L232.5 151.8 L233.5 151.1 L234.4 150.6 L235.5 150.6 L236.6 150.7 L237.7 150.6 L238.8 150.1 L239.9 149.7 L241.0 149.5 L242.3 150.1 L243.6 150.4 L244.9 150.4 L245.9 149.6 L246.9 148.9 L248.0 148.5 L249.0 148.3 L250.0 148.3 L251.1 148.3 L252.2 148.5 L253.3 148.4 L254.4 148.1 L255.5 147.3 L256.6 146.8 L257.7 146.5 L258.8 146.7 L259.9 146.7 L260.9 146.7 L262.0 146.5 L263.1 146.3 L264.2 146.6 L265.3 146.7 L266.4 147.0 L267.5 147.1 L268.6 147.3 L269.7 147.1 L271.0 146.6 L272.3 146.4 L273.6 146.8 L274.5 146.9 L275.4 146.6 L276.3 145.8 L277.4 144.8 L278.4 144.0 L279.5 143.8 L280.5 145.2 L281.5 146.2 L281.5 146.0 L281.5 147.0 L281.6 148.0 L281.6 149.0 L281.7 150.0 L281.7 151.0 L281.8 152.0 L281.8 153.0 L281.9 154.0 L281.9 155.0 L281.9 156.0 L281.9 157.0 L281.9 158.0 L281.9 159.0 L282.0 160.0 L282.0 161.0 L282.0 162.0 L282.0 163.0 L282.0 164.0 L282.0 165.0 L282.0 166.0 L282.0 167.0 L282.0 168.0 L282.1 169.0 L282.1 170.0 L282.1 171.0 L282.1 172.0 L282.1 173.0 L282.1 174.0 L282.1 175.0 L282.1 176.0 L282.1 177.0 L282.2 178.0 L282.2 179.0 L282.2 180.0 L282.2 181.0 L282.2 182.0 L282.2 183.0 L282.2 184.0 L282.2 185.0 L282.2 186.0 L282.3 187.0 L282.3 188.0 L282.3 189.0 L282.3 190.0 L282.3 191.0 L282.3 192.0 L282.3 193.0 L282.3 194.0 L282.3 195.0 L282.4 196.0 L282.4 197.0 L282.4 198.0 L282.4 199.0 L282.4 200.0 L282.4 201.0 L282.4 202.0 L282.4 203.0 L282.4 204.0 L282.4 205.0 L282.4 206.0 L282.4 207.0 L282.4 208.0 L282.4 209.0 L282.4 210.0 L282.4 211.0 L282.4 212.0 L282.4 213.0 L282.4 214.0 L282.4 215.0 L282.4 216.0 L282.5 217.0 L282.5 218.0 L282.5 219.0 L282.5 220.0 L282.5 221.0 L282.5 222.0 L282.5 223.0 L282.5 224.0 L282.5 225.0 L282.5 226.0 L282.5 227.0 L282.5 228.0 L282.5 229.0 L282.5 230.0 L282.5 231.0 L282.5 232.0 L282.5 233.0 L282.5 234.0 L282.5 235.0 L282.5 236.0 L282.5 237.0 L282.5 238.0 L282.5 239.0 L282.5 240.0 L282.5 241.0 L282.5 242.0 L282.5 243.0 L282.5 244.0 L282.5 245.0 L282.5 246.0 L282.5 247.0 L282.5 248.0 L282.6 249.0 L282.6 250.0 L282.6 251.0 L282.6 252.0 L282.6 253.0 L282.6 254.0 L282.6 255.0 L282.6 256.0 L282.6 257.0 L282.6 258.0 L282.6 259.0 L282.6 260.0 L282.6 261.0 L282.6 262.0 L282.6 263.0 L282.6 264.0 L282.6 265.0 L282.6 266.0 L282.6 267.0 L282.6 268.0 L282.6 269.0 L282.6 270.0 L282.6 271.0 L282.6 272.0 L282.6 273.0 L282.6 274.0 L282.6 275.0 L282.6 276.0 L282.6 277.0 L282.6 278.0 L282.6 279.0 L282.6 280.0 L282.6 281.0 L282.6 282.0 L282.7 283.0 L282.7 284.0 L282.7 285.0 L282.7 286.0 L282.7 287.0 L282.7 288.0 L282.7 289.0 L282.7 290.0 L282.7 291.0 L282.7 292.0 L282.7 293.0 L282.7 294.0 L282.7 295.0 L282.7 296.0 L282.7 297.0 L282.7 298.0 L282.7 299.0 L282.8 298.0 L282.8 297.0 L282.9 296.0 L282.9 295.0 L283.0 294.0 L283.0 293.0 L283.1 292.0 L283.2 291.0 L283.2 290.0 L283.3 289.0 L283.3 288.0 L283.4 287.0 L283.4 286.0 L283.5 285.0 L283.7 284.0 L283.8 283.0 L284.0 282.0 L284.1 281.0 L284.3 280.0 L284.4 279.0 L284.6 278.0 L284.7 277.0 L284.9 276.0 L285.0 275.0 L285.2 274.0 L285.3 273.0 L285.5 272.0 L285.6 273.0 L285.8 274.0 L285.9 275.0 L286.0 276.0 L286.1 277.0 L286.2 278.0 L286.4 279.0 L286.5 280.0 L287.3 279.0 L287.3 279.1 L288.3 278.8 L289.4 278.8 L290.4 278.9 L291.5 278.7 L292.5 278.3 L293.6 278.1 L294.6 278.3 L295.7 278.6 L296.7 278.7 L297.7 278.7 L298.7 278.6 L299.7 278.6 L300.7 278.5 L301.7 278.4 L302.7 278.4 L303.7 278.5 L304.7 278.7 L305.7 278.8 L306.7 278.8 L307.7 278.6 L308.7 278.7 L309.7 279.0 L310.7 279.3 L311.7 279.5 L312.7 279.6 L313.7 279.8 L314.7 280.1 L315.7 280.2 L316.8 280.0 L317.8 279.8 L318.8 279.8 L319.9 279.7 L320.9 279.7 L321.9 280.1 L323.0 280.7 L324.0 281.1 L325.0 281.0 L326.1 280.7 L327.1 280.7 L328.1 281.0 L329.2 281.3 L330.2 281.7 L331.2 282.0 L332.3 282.0 L333.3 282.0 L334.3 282.1 L335.3 282.5 L336.3 282.5 L337.3 282.3 L338.3 282.3 L339.3 282.6 L340.3 283.0 L341.3 283.0 L342.3 282.9 L343.3 283.1 L344.3 283.3 L345.3 283.4 L346.3 283.4 L347.3 283.4 L348.3 283.3 L349.3 283.2 L350.3 283.0 L351.4 283.1 L352.4 283.3 L353.4 283.7 L354.5 284.1 L355.5 284.2 L356.5 284.1 L357.6 284.0 L358.6 284.0 L359.6 284.0 L360.7 283.9 L361.7 283.7 L362.8 283.6 L363.8 283.8 L364.8 283.9 L365.9 283.9 L366.9 283.7 L367.9 283.7 L369.0 284.0 L370.0 284.4 L371.0 284.5 L372.0 284.6 L373.0 284.5 L374.0 284.6 L375.0 284.5 L376.0 284.6 L377.0 284.6 L378.0 284.5 L379.0 284.2 L380.0 284.1 L381.0 284.0 L382.0 284.1 L383.0 284.2 L384.0 284.3 L385.0 284.3 L386.0 284.1 L387.0 284.0 L388.0 284.0 L389.0 284.1 L390.0 284.2 L391.0 284.4 L392.0 284.5 L393.0 284.9 L394.0 284.8 L395.0 284.7 L396.0 284.4 L397.0 284.5 L398.0 284.7 L399.0 285.0 L400.0 285.0 L401.0 284.9 L402.0 284.8 L403.0 284.6 L404.0 284.1 L405.0 283.8 L406.0 283.7 L407.0 284.1 L408.0 284.3 L409.0 284.5 L410.0 284.6 L411.0 284.8 L412.0 284.9 L413.0 284.7 L414.0 284.4 L415.0 284.2 L416.0 284.1 L417.0 284.3 L418.0 284.7 L419.0 284.9 L420.0 285.0 L421.0 285.0 L422.0 284.9 L423.0 284.8 L424.0 284.7 L425.0 284.7 L426.0 284.6 L427.0 284.4 L428.0 284.2 L429.0 284.3 L430.0 284.8 L431.0 285.1 L432.0 284.9 L433.0 284.4 L434.0 284.1 L435.0 284.3 L436.0 284.6 L437.0 284.7 L438.0 284.8 L439.0 284.9 L440.0 285.0 L441.0 284.9 L442.0 284.8 L443.0 284.6 L444.0 284.6 L445.0 284.6 L446.0 284.5 L447.0 284.4 L448.0 284.4 L449.0 284.7 L450.0 285.2 L451.0 285.6 L452.0 285.4 L453.0 284.8 L454.0 284.4 L455.0 284.3 L456.0 284.5 L457.0 284.7 L458.0 284.9 L459.0 284.8 L460.0 284.6 L461.0 284.5 L462.0 284.5 L463.0 284.8 L464.0 285.0 L465.0 285.0 L466.0 284.7 L467.0 284.6 L468.0 284.5 L469.0 284.6 L470.0 284.8 L471.0 284.8 L472.0 284.9 L473.0 284.7 L474.0 284.8 L475.0 284.6 L476.0 284.6 L477.0 284.7 L478.0 285.0 L479.0 285.2 L480.0 285.1 L481.0 284.9 L482.0 284.8 L483.0 284.8 L484.0 284.9 L485.0 285.0 L486.0 285.0 L487.0 284.8 L488.0 284.6 L489.0 284.6 L490.0 284.7 L491.0 284.9 L492.0 285.0 L493.0 285.1 L494.0 285.2 L495.0 285.1 L496.0 285.0 L497.0 285.0 L498.0 285.0 L499.0 285.0 L500.0 284.8 L501.0 284.7 L502.0 284.7 L503.0 285.0 L504.0 285.0 L505.0 285.0 L506.0 285.0 L507.0 285.0 L508.0 284.8 L509.0 284.8 L510.0 284.8 L511.0 284.9 L512.0 285.0 L513.0 285.0 L514.0 285.0 L515.0 284.9 L516.0 285.0 L517.0 285.0 L518.0 284.9 L519.0 284.8 L520.0 285.0 L521.0 285.3 L522.0 285.4 L523.0 285.2 L524.0 285.1 L525.0 285.2 L526.0 285.6 L527.0 285.6 L528.0 285.5 L529.0 285.0 L530.0 284.7 L531.0 284.5 L532.0 284.7 L533.0 284.8 L534.0 284.7 L535.0 284.5 L536.0 284.5 L537.0 284.7 L538.0 285.2 L539.0 285.7 L540.0 285.9 L541.0 285.8 L542.0 285.6 L543.0 285.3 L544.0 285.1 L545.0 285.0 L546.0 285.2 L547.0 285.5 L548.0 285.6 L549.0 285.4 L550.0 285.0 L551.0 284.6 L552.0 284.4 L553.0 284.4 L554.0 284.5 L555.0 284.7 L556.0 284.7 L557.0 284.6 L558.0 284.6 L559.0 284.8 L560.0 285.1 L561.0 285.5 L562.0 285.8 L563.0 285.9 L564.0 285.7 L565.0 285.5 L566.0 285.5 L567.0 285.5 L568.0 285.4 L569.0 285.4 L570.0 285.4 L571.0 285.4 L572.0 285.2 L573.0 285.1 L574.0 285.1 L575.0 285.2 L576.0 285.2 L577.0 285.1 L578.0 284.9 L579.0 284.8 L580.0 284.9 L581.0 285.1 L582.0 285.2 L583.0 285.2 L584.0 285.4 L585.0 285.6 L586.0 285.6 L587.0 285.5 L588.0 285.5 L589.0 285.3" fill="none" stroke="#1fa979" stroke-width="3.7" stroke-linejoin="round" stroke-linecap="round"/><polygon points="282.7,262 284.8,265 286.3,272 286.8,280 286.3,287 285.2,291 282.7,292" fill="#1fa979"/>
<path d="M330.0 283.9 L331.0 283.7 L332.0 283.6 L333.0 283.8 L334.0 284.0 L335.0 284.2 L336.0 284.3 L337.0 284.3 L338.0 284.1 L339.0 283.9 L340.0 284.1 L341.0 284.4 L342.0 284.5 L343.0 284.3 L344.0 284.2 L345.0 284.2 L346.0 284.3 L347.0 284.2 L348.0 284.1 L349.0 284.2 L350.0 284.3 L351.0 284.2 L352.0 284.0 L353.0 284.1 L354.0 284.5 L355.0 284.8 L356.0 284.7 L357.0 284.4 L358.0 284.3 L359.0 284.2 L360.0 284.2 L361.0 284.3 L362.1 284.4 L363.1 284.5 L364.1 284.4 L365.1 284.5 L366.2 284.5 L367.2 284.6 L368.2 284.6 L369.2 284.7 L370.3 284.7 L371.3 284.7 L372.3 284.6 L373.4 284.7 L374.4 284.6 L375.4 284.5 L376.4 284.1 L377.5 284.0 L378.5 284.0 L379.5 283.9 L380.5 283.9 L381.6 284.0 L382.6 284.1 L383.6 284.1 L384.6 284.2 L385.7 284.5 L386.7 284.8 L387.7 285.1 L388.7 285.1 L389.7 284.8 L390.7 284.3 L391.7 283.9 L392.7 283.8 L393.7 284.0 L394.7 284.4 L395.8 284.6 L396.8 284.7 L397.8 284.6 L398.8 284.4 L399.8 284.2 L400.8 284.2 L401.8 284.2 L402.8 284.3 L403.8 284.2 L404.8 284.1 L405.8 284.1 L406.8 284.3 L407.8 284.5 L408.8 284.5 L409.8 284.5 L410.8 284.6 L411.8 284.7 L412.8 284.8 L413.9 284.8 L414.9 284.8 L415.9 284.7 L416.9 284.4 L417.9 284.2 L418.9 284.2 L419.9 284.4 L420.9 284.5 L421.9 284.4 L422.9 284.3 L423.9 284.2 L424.9 284.0 L425.9 284.0 L426.9 284.0 L427.9 284.3 L428.9 284.6 L429.9 284.8 L430.9 284.8 L432.0 284.7 L433.0 284.6 L434.0 284.6 L435.0 284.5 L436.0 284.4 L437.0 284.3 L438.0 284.2 L439.0 284.1 L440.0 284.1 L441.0 284.3 L442.0 284.5 L443.0 284.5 L444.0 284.3 L445.0 284.2 L446.0 284.1 L447.0 284.1 L448.0 284.3 L449.0 284.6 L450.0 284.9 L451.0 284.8 L452.0 284.6 L453.0 284.4 L454.0 284.3 L455.0 284.3 L456.0 284.3 L457.0 284.4 L458.0 284.5 L459.0 284.6 L460.0 284.7 L461.0 284.6 L462.0 284.6 L463.0 284.7 L464.0 285.0 L465.0 285.2 L466.0 285.1 L467.0 284.7 L468.0 284.6 L469.0 284.7 L470.0 284.8 L471.0 284.6 L472.0 284.2 L473.0 284.0 L474.0 284.0 L475.0 284.2 L476.0 284.4 L477.0 284.5 L478.0 284.5 L479.0 284.4 L480.0 284.3 L481.0 284.3 L482.0 284.3 L483.0 284.4 L484.0 284.5 L485.0 284.6 L486.0 284.7 L487.0 284.9 L488.0 284.9 L489.0 284.9 L490.0 284.9 L491.0 285.2 L492.0 285.3 L493.0 285.2 L494.0 284.7 L495.0 284.4 L496.0 284.5 L497.0 284.7 L498.0 284.9 L499.0 285.0 L500.0 285.1 L501.0 285.1 L502.0 284.8 L503.0 284.4 L504.0 284.1 L505.0 284.2 L506.0 284.3 L507.0 284.2 L508.0 284.2 L509.0 284.4 L510.0 284.7 L511.0 284.7 L512.0 284.6 L513.0 284.4 L514.0 284.6 L515.0 285.0 L516.0 285.3 L517.0 285.3 L518.0 285.3 L519.0 285.3 L520.0 285.2 L521.0 285.1 L522.0 285.0 L523.0 284.9 L524.0 284.9 L525.0 285.0 L526.0 284.9 L527.0 284.8 L528.0 284.8 L529.0 284.8 L530.0 284.8 L531.0 284.7 L532.0 284.8 L533.0 285.1 L534.0 285.2 L535.0 285.1 L536.0 285.0 L537.0 285.0 L538.0 285.0 L539.0 285.1 L540.0 285.3 L541.0 285.5 L542.0 285.5 L543.0 285.4 L544.0 285.3 L545.0 285.0 L546.0 284.9 L547.0 284.7 L548.0 284.8 L549.0 284.9 L550.0 285.0 L551.0 284.9 L552.0 285.1 L553.0 285.2 L554.0 285.3 L555.0 285.2 L556.0 285.1 L557.0 285.0 L558.0 285.1 L559.0 285.4 L560.0 285.5 L561.0 285.5 L562.0 285.2 L563.0 285.1 L564.0 285.1 L565.0 285.3 L566.0 285.5 L567.0 285.6 L568.0 285.5 L569.0 285.5 L570.0 285.5 L571.0 285.5 L572.0 285.6 L573.0 285.6 L574.0 285.6 L575.0 285.5 L576.0 285.3 L577.0 285.2 L578.0 285.1 L579.0 285.2 L580.0 285.2 L581.0 285.2 L582.0 285.1 L583.0 285.1 L584.0 285.1 L585.0 285.2 L586.0 285.4 L587.0 285.6 L588.0 286.0 L589.0 286.2" fill="none" stroke="#f39324" stroke-width="4.3" stroke-linecap="round"/><path d="M86.0 285.7 L87.0 285.8 L88.0 285.8 L89.0 285.7 L90.0 285.7 L91.0 285.6 L92.0 285.5 L93.0 285.4 L94.0 285.4 L95.0 285.3 L96.0 285.2 L97.0 285.1 L98.0 285.2 L99.0 285.5 L100.0 285.8 L101.0 285.8 L102.0 285.8 L103.0 285.5 L104.0 285.3 L105.0 285.3 L106.0 285.5 L107.0 285.7 L108.0 285.6 L109.0 285.4 L110.0 285.3 L111.0 285.4 L112.0 285.3 L113.0 285.3 L114.0 285.2 L115.0 285.1 L116.0 285.0 L117.0 285.2 L118.0 285.4 L119.0 285.8 L120.0 286.1 L121.0 286.1 L122.0 285.9 L123.0 285.6 L124.0 285.6 L125.0 285.6 L126.0 285.5 L127.0 285.1 L128.0 285.1 L129.0 285.2 L130.0 285.6 L131.0 285.7 L132.0 285.7 L133.0 285.5 L134.0 285.6 L135.0 285.6 L136.0 285.7" fill="none" stroke="#f39324" stroke-width="4.6" stroke-linecap="butt"/><path d="M86.0 285.4 L87.0 285.2 L88.0 285.3 L89.0 285.5 L90.0 285.7 L91.0 285.5 L92.1 285.4 L93.1 285.5 L94.1 285.7 L95.1 285.6 L96.1 285.2 L97.1 284.9 L98.1 284.9 L99.1 285.2 L100.1 285.5 L101.2 285.9 L102.2 286.1 L103.2 286.3 L104.2 286.3 L105.2 285.9 L106.2 285.5 L107.2 285.3 L108.2 285.4 L109.2 285.7 L110.2 285.9 L111.2 285.7 L112.3 285.5 L113.3 285.4 L114.3 285.2 L115.3 284.6 L116.3 284.4 L117.3 284.8 L118.3 285.4 L119.3 285.6 L120.3 285.8 L121.3 285.8 L122.4 285.7 L123.4 285.5 L124.4 285.7 L125.4 285.8 L126.4 285.5 L127.4 285.4 L128.4 285.8 L129.4 286.3 L130.4 286.1 L131.4 285.7 L132.5 285.3 L133.5 285.3 L134.5 285.4 L135.5 285.6 L136.5 286.0 L136.5 285.2 L136.6 284.0 L136.6 282.6 L136.6 281.0 L136.7 279.8 L136.7 278.8 L136.7 278.0 L136.8 277.2 L136.8 276.2 L136.8 275.1 L136.9 274.1 L136.9 273.3 L137.0 272.4 L137.0 271.3 L137.0 270.1 L137.1 268.8 L137.1 267.6 L137.1 266.2 L137.2 265.1 L137.2 264.1 L137.2 263.4 L137.3 262.5 L137.3 261.8 L137.3 261.2 L137.4 260.5 L137.4 259.7 L137.4 258.7 L137.5 257.8 L137.5 256.9 L137.6 255.8 L137.6 254.5 L137.6 253.1 L137.7 252.1 L137.7 251.3 L137.7 250.4 L137.8 249.0 L137.8 247.4 L137.9 246.2 L137.9 245.3 L137.9 244.4 L138.0 243.2 L138.0 242.3 L138.0 241.9 L138.1 241.9 L138.1 241.3 L138.2 240.2 L138.2 238.5 L138.2 237.3 L138.3 236.2 L138.3 235.4 L138.3 234.3 L138.4 233.1 L138.4 231.9 L138.5 230.5 L138.5 229.3 L138.5 228.4 L138.6 227.6 L138.6 226.8 L138.7 225.8 L138.7 224.7 L138.7 223.6 L138.8 222.6 L138.8 221.3 L138.9 220.0 L138.9 218.9 L138.9 218.4 L139.0 218.2 L139.0 218.0 L139.1 217.1 L139.1 215.9 L139.1 214.6 L139.2 213.7 L139.2 212.8 L139.3 211.9 L139.3 210.8 L139.3 209.6 L139.4 208.3 L139.4 207.0 L139.5 205.8 L139.5 204.8 L139.5 203.5 L139.6 202.5 L139.6 201.3 L139.7 200.5 L139.7 199.6 L139.8 198.8 L139.8 197.7 L139.8 196.5 L139.9 195.3 L139.9 194.4 L140.0 193.8 L140.0 193.2 L140.1 192.3 L140.2 191.2 L140.2 190.4 L140.3 189.6 L140.4 188.6 L140.5 187.2 L140.5 185.7 L140.6 184.7 L140.7 184.2 L140.9 183.4 L141.1 181.9 L141.2 180.1 L141.4 178.9 L141.6 178.4 L141.8 177.9 L142.2 177.1 L142.7 175.8 L143.1 174.5 L143.5 173.6 L144.5 173.0 L145.5 172.4 L146.7 172.0 L147.9 171.1 L148.9 170.6 L150.0 170.6 L151.0 170.9 L152.1 170.7 L153.1 170.3 L154.2 170.1 L155.3 170.1 L156.4 170.0 L157.5 170.2 L158.6 170.4 L159.7 170.7 L161.0 170.0 L162.3 169.3 L163.6 168.4 L164.6 168.4 L165.6 168.6 L166.6 169.0 L167.6 168.7 L168.6 168.0 L169.7 167.2 L170.7 167.1 L171.8 167.2 L172.8 167.3 L173.8 166.9 L174.8 166.6 L175.8 166.0 L176.8 165.4 L177.8 164.5 L178.9 163.6 L179.9 162.5 L181.0 161.7 L182.0 161.2 L183.0 161.1 L184.0 161.2 L185.0 161.2 L186.0 160.2 L186.8 159.0 L187.6 157.8 L188.4 157.4 L189.2 157.0 L190.0 156.9 L190.8 156.3 L191.7 155.5 L192.5 154.5 L193.3 153.5 L194.2 152.6 L195.0 151.9 L195.8 151.2 L196.7 150.5 L197.5 150.1 L198.3 149.3 L199.1 148.3 L199.9 147.1 L200.8 146.8 L201.6 146.4 L202.5 146.0 L203.5 144.7 L204.4 144.1 L205.3 143.9 L206.2 143.9 L207.2 143.5 L208.1 142.6 L209.1 141.5 L210.1 140.6 L211.1 140.5 L212.1 140.5 L212.9 140.4 L213.7 140.0 L214.6 139.6 L215.4 138.8 L216.2 137.7 L217.1 136.4 L217.9 135.4 L218.8 134.9 L219.6 134.7 L220.5 134.4 L221.4 133.3 L222.3 132.0 L223.3 131.1 L224.2 130.7 L225.3 130.7 L226.3 130.5 L227.4 129.8 L228.5 128.8 L229.6 128.0 L230.6 127.4 L231.6 126.9 L232.7 126.1 L233.8 125.2 L234.8 124.5 L235.9 123.8 L237.0 123.1 L238.1 122.6 L239.1 122.6 L240.1 122.6 L241.2 122.0 L242.4 121.2 L243.7 120.7 L244.6 122.2 L245.5 123.4 L245.8 124.6 L246.2 125.2 L246.5 125.9 L246.5 126.0 L246.5 127.0 L246.6 128.0 L246.6 129.0 L246.6 130.0 L246.6 131.0 L246.7 132.0 L246.7 133.0 L246.7 134.0 L246.8 135.0 L246.8 136.0 L246.8 137.0 L246.8 138.0 L246.9 139.0 L246.9 140.0 L246.9 141.0 L247.0 142.0 L247.0 143.0 L247.0 144.0 L247.1 145.0 L247.1 146.0 L247.1 147.0 L247.1 148.0 L247.2 149.0 L247.2 150.0 L247.2 151.0 L247.2 152.0 L247.2 153.0 L247.2 154.0 L247.2 155.0 L247.2 156.0 L247.3 157.0 L247.3 158.0 L247.3 159.0 L247.3 160.0 L247.3 161.0 L247.3 162.0 L247.3 163.0 L247.3 164.0 L247.3 165.0 L247.3 166.0 L247.3 167.0 L247.3 168.0 L247.4 169.0 L247.4 170.0 L247.4 171.0 L247.4 172.0 L247.4 173.0 L247.4 174.0 L247.4 175.0 L247.4 176.0 L247.4 177.0 L247.4 178.0 L247.4 179.0 L247.4 180.0 L247.4 181.0 L247.5 182.0 L247.5 183.0 L247.5 184.0 L247.5 185.0 L247.5 186.0 L247.5 187.0 L247.5 188.0 L247.5 189.0 L247.5 190.0 L247.5 191.0 L247.5 192.0 L247.5 193.0 L247.6 194.0 L247.6 195.0 L247.6 196.0 L247.6 197.0 L247.6 198.0 L247.6 199.0 L247.6 200.0 L247.6 201.0 L247.6 202.0 L247.6 203.0 L247.6 204.0 L247.6 205.0 L247.6 206.0 L247.6 207.0 L247.7 208.0 L247.7 209.0 L247.7 210.0 L247.7 211.0 L247.7 212.0 L247.7 213.0 L247.7 214.0 L247.7 215.0 L247.7 216.0 L247.7 217.0 L247.7 218.0 L247.7 219.0 L247.7 220.0 L247.7 221.0 L247.7 222.0 L247.8 223.0 L247.8 224.0 L247.8 225.0 L247.8 226.0 L247.8 227.0 L247.8 228.0 L247.8 229.0 L247.8 230.0 L247.8 231.0 L247.8 232.0 L247.8 233.0 L247.8 234.0 L247.8 235.0 L247.8 236.0 L247.8 237.0 L247.9 238.0 L247.9 239.0 L247.9 240.0 L247.9 241.0 L247.9 242.0 L247.9 243.0 L247.9 244.0 L247.9 245.0 L247.9 246.0 L247.9 247.0 L247.9 248.0 L247.9 249.0 L247.9 250.0 L247.9 251.0 L247.9 252.0 L248.0 253.0 L248.0 254.0 L248.0 255.0 L248.0 256.0 L248.0 257.0 L248.0 258.0 L248.0 259.0 L248.0 260.0 L248.0 261.0 L248.0 262.0 L248.0 263.0 L248.0 264.0 L248.0 265.0 L248.0 266.0 L248.1 267.0 L248.1 268.0 L248.1 269.0 L248.1 270.0 L248.1 271.0 L248.1 272.0 L248.1 273.0 L248.1 274.0 L248.1 275.0 L248.1 276.0 L248.1 277.0 L248.1 278.0 L248.1 279.0 L248.1 280.0 L248.2 281.0 L248.2 282.0 L248.2 283.0 L248.2 284.0 L248.2 285.0 L248.2 286.0 L248.2 287.0 L248.2 288.0 L248.2 289.0 L248.2 290.0 L248.2 291.0 L248.2 292.0 L248.2 293.0 L248.2 294.0 L248.3 295.0 L248.3 296.0 L248.3 297.0 L248.3 298.0 L248.3 299.0 L248.3 300.0 L248.3 301.0 L248.3 300.0 L248.3 299.0 L248.4 298.0 L248.4 297.0 L248.4 296.0 L248.4 295.0 L248.4 294.0 L248.5 293.0 L248.5 292.0 L248.5 291.0 L248.5 290.0 L248.5 289.0 L248.6 288.0 L248.6 287.0 L248.6 286.0 L248.7 285.0 L248.9 284.0 L249.0 283.0 L249.1 282.0 L249.3 281.0 L249.4 280.0 L249.6 279.0 L249.7 278.0 L249.8 277.0 L250.0 276.0 L250.1 275.0 L250.2 274.0 L250.4 273.0 L250.5 272.0 L250.6 273.0 L250.8 274.0 L250.9 275.0 L251.0 276.0 L251.1 277.0 L251.2 278.0 L251.4 279.0 L251.5 280.0 L251.6 281.0 L251.8 282.0 L251.9 283.0 L252.0 284.0 L252.4 283.1 L252.9 282.1 L253.4 281.1 L253.8 280.2 L253.8 280.1 L254.9 279.7 L255.9 279.4 L257.0 279.5 L258.0 279.5 L259.1 279.5 L260.1 279.5 L261.2 279.6 L262.2 279.7 L263.3 279.7 L264.4 279.5 L265.4 279.3 L266.4 278.9 L267.5 278.8 L268.6 278.7 L269.6 278.8 L270.7 278.7 L271.9 278.6 L273.0 278.6 L274.2 278.6 L275.3 278.5 L276.4 278.7 L277.5 278.9 L278.5 279.4 L279.6 279.7 L280.7 280.1 L281.8 280.3 L282.8 280.4 L283.9 280.2 L284.9 280.0 L286.0 280.1 L287.1 280.5 L288.1 280.7 L289.2 280.6 L290.3 280.5 L291.4 280.6 L292.4 281.1 L293.5 281.4 L294.6 281.4 L295.6 281.4 L296.7 281.6 L297.7 281.8 L298.7 282.0 L299.7 282.2 L300.7 282.3 L301.7 282.4 L302.7 282.4 L303.7 282.4 L304.7 282.3 L305.7 282.2 L306.7 282.2 L307.7 282.3 L308.8 282.6 L309.8 282.9 L310.9 283.2 L311.9 283.2 L312.9 283.1 L314.0 283.0 L315.0 283.3 L316.0 283.5 L317.0 283.9 L318.0 284.0 L319.0 283.9 L320.0 283.8 L321.0 283.8 L322.0 283.8 L323.0 283.7 L324.0 283.5 L325.0 283.5 L326.0 283.7 L327.0 284.1 L328.0 284.2 L329.0 284.3 L330.0 284.2 L331.0 284.2 L332.0 284.3 L333.0 284.2 L334.0 284.2 L335.0 284.1 L336.0 284.0 L337.0 284.0 L338.0 284.0 L339.0 284.2 L340.0 284.3 L341.0 284.4 L342.0 284.6 L343.0 284.7 L344.0 284.6 L345.0 284.5 L346.0 284.2 L347.0 284.0 L348.0 283.7 L349.0 283.6 L350.0 283.7 L351.0 284.0 L352.0 284.2 L353.0 284.3 L354.0 284.5 L355.0 284.7 L356.0 284.7 L357.0 284.6 L358.0 284.4 L359.0 284.3 L360.0 284.3 L361.0 284.4 L362.1 284.4 L363.1 284.3 L364.1 284.4 L365.1 284.3 L366.2 284.1 L367.2 284.0 L368.2 284.1 L369.2 284.3 L370.3 284.5 L371.3 284.7 L372.3 284.7 L373.4 284.5 L374.4 284.4 L375.4 284.5 L376.4 284.8 L377.5 285.0 L378.5 285.0 L379.5 284.9 L380.5 284.6 L381.6 284.2 L382.6 283.9 L383.6 283.8 L384.6 283.9 L385.7 284.0 L386.7 284.2 L387.7 284.1 L388.7 284.0 L389.7 284.0 L390.7 284.5 L391.7 285.1 L392.7 285.6 L393.7 285.5 L394.7 284.9 L395.8 284.3 L396.8 283.9 L397.8 284.0 L398.8 284.0 L399.8 284.1 L400.8 284.2 L401.8 284.5 L402.8 284.6 L403.8 284.5 L404.8 284.2 L405.8 283.9 L406.8 283.8 L407.8 284.2 L408.8 284.6 L409.8 284.9 L410.8 284.9 L411.8 284.7 L412.8 284.3 L413.9 284.0 L414.9 284.1 L415.9 284.4 L416.9 284.7 L417.9 284.7 L418.9 284.6 L419.9 284.5 L420.9 284.6 L421.9 284.5 L422.9 284.4 L423.9 284.3 L424.9 284.3 L425.9 284.2 L426.9 284.0 L427.9 283.8 L428.9 283.9 L429.9 284.3 L430.9 284.6 L432.0 284.6 L433.0 284.5 L434.0 284.6 L435.0 284.6 L436.0 284.6 L437.0 284.5 L438.0 284.7 L439.0 284.8 L440.0 284.7 L441.0 284.3 L442.0 284.0 L443.0 284.1 L444.0 284.6 L445.0 284.8 L446.0 284.7 L447.0 284.5 L448.0 284.4 L449.0 284.3 L450.0 284.2 L451.0 284.3 L452.0 284.4 L453.0 284.5 L454.0 284.6 L455.0 284.8 L456.0 285.0 L457.0 284.8 L458.0 284.5 L459.0 284.1 L460.0 284.1 L461.0 284.0 L462.0 284.0 L463.0 284.2 L464.0 284.3 L465.0 284.5 L466.0 284.4 L467.0 284.3 L468.0 284.4 L469.0 284.6 L470.0 284.9 L471.0 285.0 L472.0 285.0 L473.0 284.7 L474.0 284.5 L475.0 284.5 L476.0 284.5 L477.0 284.5 L478.0 284.4 L479.0 284.7 L480.0 285.2 L481.0 285.5 L482.0 285.3 L483.0 284.8 L484.0 284.4 L485.0 284.3 L486.0 284.5 L487.0 284.8 L488.0 284.9 L489.0 284.6 L490.0 284.2 L491.0 284.0 L492.0 284.1 L493.0 284.2 L494.0 284.3 L495.0 284.3 L496.0 284.3 L497.0 284.3 L498.0 284.5 L499.0 284.7 L500.0 284.7 L501.0 285.0 L502.0 285.4 L503.0 285.5 L504.0 285.1 L505.0 284.9 L506.0 285.0 L507.0 285.0 L508.0 284.9 L509.0 284.8 L510.0 284.9 L511.0 284.9 L512.0 284.7 L513.0 284.4 L514.0 284.3 L515.0 284.4 L516.0 284.5 L517.0 284.7 L518.0 284.8 L519.0 285.0 L520.0 285.1 L521.0 285.1 L522.0 285.0 L523.0 284.9 L524.0 284.8 L525.0 284.8 L526.0 285.0 L527.0 285.3 L528.0 285.6 L529.0 285.6 L530.0 285.2 L531.0 284.8 L532.0 284.8 L533.0 285.0 L534.0 285.1 L535.0 285.0 L536.0 284.9 L537.0 285.0 L538.0 285.0 L539.0 284.9 L540.0 284.9 L541.0 285.0 L542.0 285.1 L543.0 285.1 L544.0 285.1 L545.0 285.2 L546.0 285.2 L547.0 285.1 L548.0 284.9 L549.0 284.9 L550.0 285.1 L551.0 285.1 L552.0 284.9 L553.0 284.9 L554.0 285.1 L555.0 285.2 L556.0 285.2 L557.0 285.1 L558.0 285.0 L559.0 284.9 L560.0 284.9 L561.0 285.1 L562.0 285.5 L563.0 285.8 L564.0 285.9 L565.0 285.9 L566.0 285.8 L567.0 285.7 L568.0 285.6 L569.0 285.4 L570.0 285.2 L571.0 285.1 L572.0 285.0 L573.0 285.1 L574.0 285.1 L575.0 285.3 L576.0 285.4 L577.0 285.8 L578.0 286.0 L579.0 285.9 L580.0 285.6 L581.0 285.2 L582.0 285.0 L583.0 285.1 L584.0 285.4 L585.0 285.7 L586.0 285.6 L587.0 285.3 L588.0 285.1 L589.0 285.0" fill="none" stroke="#f39324" stroke-width="3.7" stroke-linejoin="round" stroke-linecap="round"/><polygon points="248,268 250.5,272 252.3,277 252.9,281 252.2,285 250.7,289 248,291" fill="#f39324"/>
</g>
<rect x="86.0" y="32.0" width="504.0" height="403.0" fill="none" stroke="#3c3e45" stroke-width="2"/>
<line x1="200.5" y1="395" x2="239.72" y2="320.38" stroke="#2f3038" stroke-width="2.4"/><path d="M246.7 307.1 L243.22 324.47 L234.36 319.82 Z" fill="#2f3038"/>
<line x1="283.5" y1="397" x2="283.50" y2="318.30" stroke="#2f3038" stroke-width="2.4"/><path d="M283.5 303.3 L288.50 320.30 L278.50 320.30 Z" fill="#2f3038"/>
<line x1="353.6" y1="397" x2="353.60" y2="319.20" stroke="#2f3038" stroke-width="2.4"/><path d="M353.6 304.2 L358.60 321.20 L348.60 321.20 Z" fill="#2f3038"/>
<line x1="565" y1="397" x2="565.00" y2="318.70" stroke="#2f3038" stroke-width="2.4"/><path d="M565 303.7 L570.00 320.70 L560.00 320.70 Z" fill="#2f3038"/>
<text x="96.70" y="57.3" font-size="16" textLength="11.13" lengthAdjust="spacingAndGlyphs">V</text>
<text x="108.30" y="61.8" font-size="11.5" textLength="11.00" lengthAdjust="spacingAndGlyphs">IN</text>
<text x="124.90" y="57.4" font-size="16.3" textLength="48.88" lengthAdjust="spacingAndGlyphs">= 24 V</text>
<text x="96.60" y="78.4" font-size="16" textLength="11.33" lengthAdjust="spacingAndGlyphs">V</text>
<text x="108.60" y="82.8" font-size="11.5" textLength="19.90" lengthAdjust="spacingAndGlyphs">LED</text>
<text x="134.40" y="78.5" font-size="16.3" textLength="48.78" lengthAdjust="spacingAndGlyphs">= 14 V</text>
<text x="97.00" y="98.6" font-size="16" textLength="5.67" lengthAdjust="spacingAndGlyphs">f</text>
<text x="103.00" y="102.5" font-size="11.5" textLength="26.99" lengthAdjust="spacingAndGlyphs">PWM</text>
<text x="135.10" y="98.8" font-size="16.3" textLength="67.81" lengthAdjust="spacingAndGlyphs">= 120 Hz</text>
<text x="405.40" y="58.5" font-size="16" textLength="163.32" lengthAdjust="spacingAndGlyphs">EMI Filters Removed</text>
<text x="53.0" y="290.8" font-size="16.5">I</text>
<text x="58.50" y="295" font-size="11.5" textLength="19.20" lengthAdjust="spacingAndGlyphs">LED</text>
<text x="7.30" y="312.1" font-size="16" textLength="21.40" lengthAdjust="spacingAndGlyphs">0.5</text>
<text x="34.70" y="312.1" font-size="16" textLength="43.30" lengthAdjust="spacingAndGlyphs">A/div</text>
<text x="176.00" y="418" font-size="16" textLength="49.98" lengthAdjust="spacingAndGlyphs">4000:1</text>
<text x="260.50" y="418" font-size="16" textLength="49.48" lengthAdjust="spacingAndGlyphs">3000:1</text>
<text x="330.50" y="418" font-size="16" textLength="49.98" lengthAdjust="spacingAndGlyphs">2000:1</text>
<text x="536.00" y="418" font-size="16" textLength="48.98" lengthAdjust="spacingAndGlyphs">1000:1</text>
<text x="307.00" y="461.5" font-size="16" textLength="62.28" lengthAdjust="spacingAndGlyphs">1 &#181;s/div</text>
<text x="415.50" y="463.4" font-size="19.5" textLength="165.46" lengthAdjust="spacingAndGlyphs" style="font-weight:normal;fill:#bfe5b8;stroke:#bfe5b8;stroke-width:0.4px">www.cntronics.com</text>
</g>
</svg></body></html>
